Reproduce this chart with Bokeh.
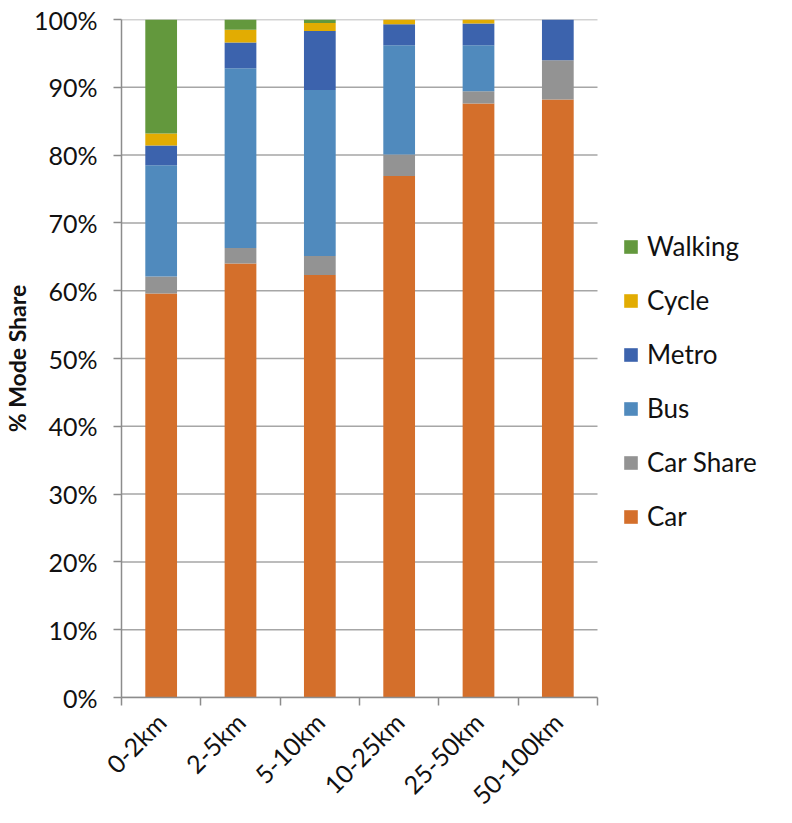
from math import pi

import numpy as np
from bokeh.embed import file_html
from bokeh.models import (ColumnDataSource, FixedTicker, Legend, LegendItem,
                          NumeralTickFormatter, Range1d, Title)
from bokeh.plotting import figure
from bokeh.resources import INLINE

# Trip distance bands and the share (%) of trips by each mode
categories = ["0-2km", "2-5km", "5-10km", "10-25km", "25-50km", "50-100km"]
car = [59.6, 64.0, 62.3, 76.9, 87.6, 88.2]
car_share = [2.5, 2.3, 2.8, 3.2, 1.8, 5.8]
bus = [16.4, 26.5, 24.5, 16.1, 6.8, 0.0]
metro = [2.9, 3.8, 8.7, 3.1, 3.2, 6.0]
cycle = [1.8, 1.9, 1.2, 0.7, 0.6, 0.0]
walking = [16.8, 1.5, 0.5, 0.0, 0.0, 0.0]
y_ticks = [i / 10 for i in range(11)]

modes = ["Car", "Car Share", "Bus", "Metro", "Cycle", "Walking"]
series = [car, car_share, bus, metro, cycle, walking]
colors = ["#D46F2B", "#939393", "#508ABD", "#3C63AD", "#E2AC02", "#63983D"]

FONT = "Lato"
GRID = "#A6A6A6"
AXIS = "#8C8C8C"

W, H = 792, 823
LEFT, TOP, BOTTOM = 121, 19, 124
BAR_AREA = 476          # width of the part of the frame that holds the bars

n = len(categories)
centers = np.arange(n) + 0.5
data = {"x": centers}
for name, vals in zip(modes, series):
    data[name] = np.array(vals) / 100.0
source = ColumnDataSource(data)

# the frame runs to the right edge so the legend can sit beside the bars
frame_w = W - LEFT
p = figure(
    width=W, height=H,
    x_range=Range1d(0, n * frame_w / BAR_AREA), y_range=Range1d(0, 1),
    output_backend="svg", toolbar_location=None,
    min_border_left=LEFT, min_border_right=0,
    min_border_top=TOP, min_border_bottom=BOTTOM,
)
p.outline_line_color = None
p.background_fill_color = "white"
p.border_fill_color = "white"

# horizontal gridlines across the bar area only
p.xgrid.grid_line_color = None
p.ygrid.grid_line_color = None
p.segment(x0=[0] * len(y_ticks), x1=[n] * len(y_ticks), y0=y_ticks, y1=y_ticks,
          line_color=GRID, line_width=1.5, level="underlay")

renderers = p.vbar_stack(
    modes, x="x", width=0.4, source=source,
    fill_color=colors, line_color=None,
)

# y axis: 0%..100% with outward ticks
p.yaxis.ticker = FixedTicker(ticks=y_ticks, minor_ticks=[])
p.yaxis.formatter = NumeralTickFormatter(format="0%")
p.yaxis.major_tick_in = 0
p.yaxis.major_tick_out = 8
p.yaxis.minor_tick_line_color = None
p.yaxis.major_label_standoff = 16

# x axis: labels under each band, tick marks on the band boundaries
p.xaxis.bounds = (0, n)
p.xaxis.ticker = FixedTicker(ticks=list(centers), minor_ticks=list(range(n + 1)))
p.xaxis.major_label_overrides = {float(c): lab for c, lab in zip(centers, categories)}
p.xaxis.major_tick_in = 0
p.xaxis.major_tick_out = 0
p.xaxis.minor_tick_in = 0
p.xaxis.minor_tick_out = 8
p.xaxis.major_label_orientation = pi / 4
p.xaxis.major_label_standoff = 12

for ax in (p.xaxis, p.yaxis):
    ax.axis_line_color = AXIS
    ax.axis_line_width = 1.5
    ax.major_tick_line_color = AXIS
    ax.major_tick_line_width = 1.5
    ax.major_label_text_font = FONT
    ax.major_label_text_font_size = "25px"
    ax.major_label_text_color = "#111111"
p.xaxis.minor_tick_line_color = AXIS
p.xaxis.minor_tick_line_width = 1.5

# vertical y-axis title at the far left
p.add_layout(
    Title(
        text="% Mode Share", align="center", standoff=0, offset=0,
        text_font=FONT, text_font_style="bold", text_font_size="23px",
        text_color="#111111",
    ),
    "left",
)

items = [LegendItem(label=m, renderers=[r]) for m, r in zip(modes, renderers)][::-1]
legend = Legend(
    items=items, location=(501, 165),
    glyph_width=17, glyph_height=17, label_height=17,
    label_standoff=8, spacing=22, padding=0, margin=0,
    label_text_font=FONT, label_text_font_size="26px",
    label_text_color="#111111",
    border_line_color=None, background_fill_alpha=0,
)
p.add_layout(legend)

open("out.html", "w").write(file_html(p, INLINE))
